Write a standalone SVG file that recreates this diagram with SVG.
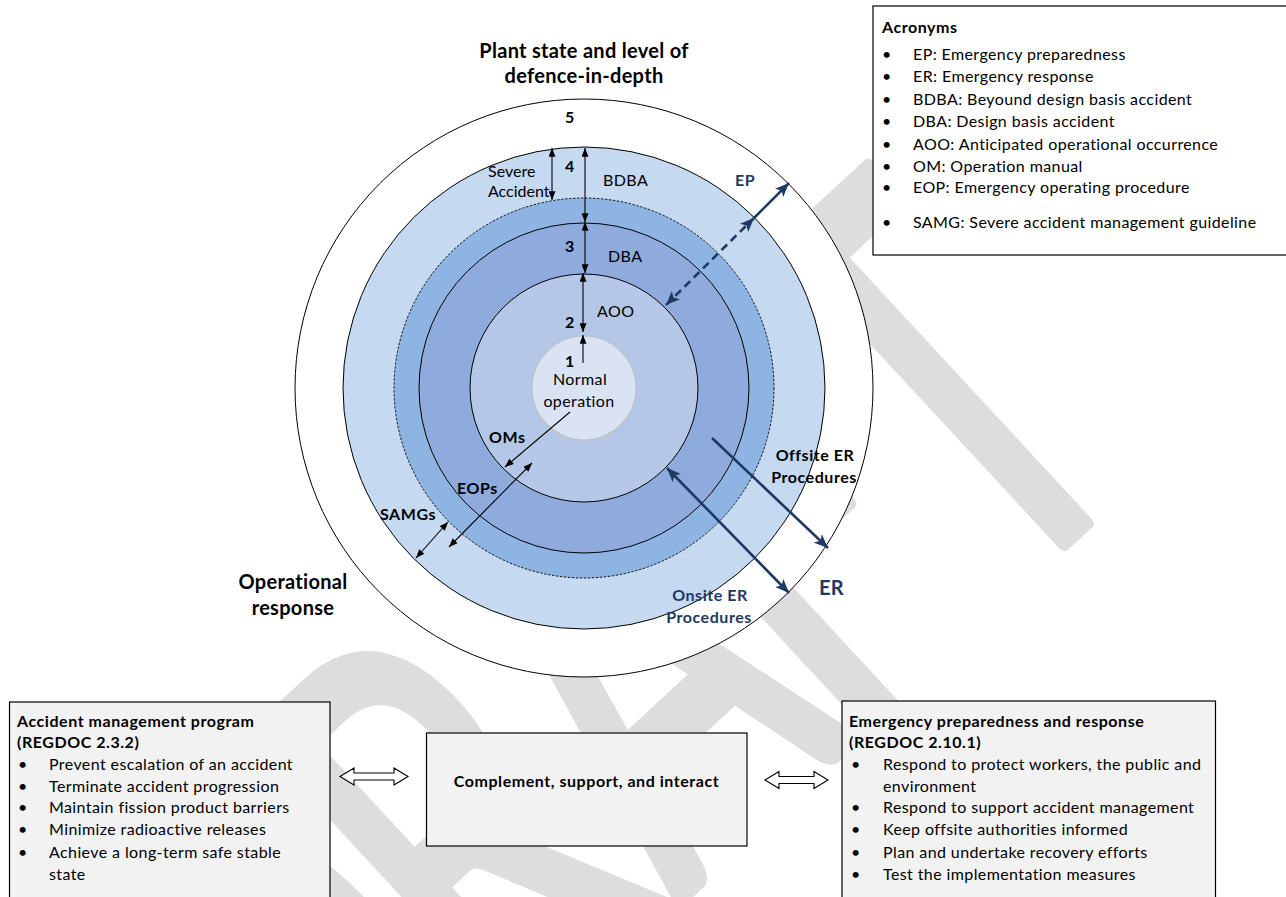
<svg xmlns="http://www.w3.org/2000/svg" width="1286" height="897" viewBox="0 0 1286 897">
<defs>
<style>
text{font-family:Lato,"Open Sans","Liberation Sans",sans-serif;fill:#000}
.t{font-size:16px;letter-spacing:0.4px}
.b{font-weight:bold;letter-spacing:0.55px}
.c{text-anchor:middle}
.big{font-size:20px;letter-spacing:0.3px}
.nv-t{fill:#1f3864}
.ring{stroke:#000;stroke-width:1}
.box{fill:#f2f2f2;stroke:#000;stroke-width:1.2}
.ln{stroke:#000;stroke-width:1.1;fill:none}
.nv{stroke:#1f3864;stroke-width:2.6;fill:none}
.wm{font-size:420px;fill:#dddddd;stroke:#dddddd;stroke-width:11;stroke-linejoin:round}
.harrow{fill:#fff;stroke:#000;stroke-width:1.1}
</style>
<marker id="ah" viewBox="0 0 10 8" refX="10" refY="4" markerWidth="9" markerHeight="7" markerUnits="userSpaceOnUse" orient="auto-start-reverse"><path d="M0,0 L10,4 L0,8 z" fill="#000"/></marker>
<marker id="an" viewBox="0 0 12 10" refX="12" refY="5" markerWidth="14" markerHeight="12" markerUnits="userSpaceOnUse" orient="auto-start-reverse"><path d="M0,0 L12,5 L0,10 L3,5 z" fill="#1f3864"/></marker>
</defs>
<rect width="1286" height="897" fill="#fff"/>

<g id="watermark" transform="translate(1073,535) rotate(-42.8) scale(0.85,1.36)">
<text class="wm" x="-1206 -902 -634 -368 -121" y="0">DRAFT</text>
</g>

<g id="title">
<text class="b c big" x="584" y="58">Plant state and level of</text>
<text class="b c big" x="584" y="83">defence-in-depth</text>
</g>

<g id="rings">
<circle id="level5" class="ring" cx="584" cy="388" r="289" fill="#fff"/>
<circle id="level4" class="ring" cx="584" cy="388" r="241" fill="#c5d9f1"/>
<circle id="severe" cx="584" cy="388" r="190" fill="#8db4e2" stroke="#000" stroke-width="0.9" stroke-dasharray="2.5 1.5"/>
<circle id="level3" class="ring" cx="584" cy="388" r="165" fill="#8faadc"/>
<circle id="level2" class="ring" cx="584" cy="388" r="114" fill="#b4c7e7"/>
<circle id="level1" cx="584" cy="388" r="52" fill="#dae3f3" stroke="#bfbfbf" stroke-width="1.2"/>
</g>

<g id="ring-labels" class="t">
<text class="b c" x="570" y="123">5</text>
<text x="488" y="177" style="letter-spacing:0">Severe</text>
<text x="488" y="197" style="letter-spacing:0">Accident</text>
<text class="b c" x="570" y="172">4</text>
<text x="603" y="186">BDBA</text>
<text class="b nv-t" x="735" y="186">EP</text>
<text class="b c" x="570" y="252">3</text>
<text x="608" y="262">DBA</text>
<text x="597" y="317">AOO</text>
<text class="b c" x="570" y="328">2</text>
<text class="b c" x="570" y="367">1</text>
<text class="c" x="580" y="385">Normal</text>
<text class="c" x="579" y="407">operation</text>
<text class="b" x="489" y="443">OMs</text>
<text class="b" x="457" y="494">EOPs</text>
<text class="b" x="380" y="520">SAMGs</text>
<text class="b c" x="815" y="461">Offsite ER</text>
<text class="b c" x="814" y="483">Procedures</text>
<text class="b c nv-t" x="710" y="601">Onsite ER</text>
<text class="b c nv-t" x="709" y="623">Procedures</text>
<text class="b nv-t big" x="819" y="595">ER</text>
<text class="b c big" x="293" y="589">Operational</text>
<text class="b c big" x="293" y="615">response</text>
</g>

<g id="connectors">
<line class="ln" x1="585" y1="148" x2="585" y2="222" marker-start="url(#ah)" marker-end="url(#ah)"/>
<line class="ln" x1="585" y1="222" x2="585" y2="273" marker-start="url(#ah)" marker-end="url(#ah)"/>
<line class="ln" x1="583" y1="273" x2="583" y2="332" marker-start="url(#ah)" marker-end="url(#ah)"/>
<line class="ln" x1="583" y1="363" x2="583" y2="335" marker-end="url(#ah)"/>
<line class="ln" x1="552" y1="148" x2="552" y2="200" marker-start="url(#ah)" marker-end="url(#ah)"/>
<line class="ln" x1="570" y1="412" x2="505" y2="467" marker-end="url(#ah)"/>
<line class="ln" x1="532" y1="463" x2="449" y2="547" marker-start="url(#ah)" marker-end="url(#ah)"/>
<line class="ln" x1="448" y1="522" x2="416" y2="558" marker-start="url(#ah)" marker-end="url(#ah)"/>
<line class="nv" x1="666" y1="305" x2="754" y2="218" stroke-dasharray="8 5" marker-start="url(#an)" marker-end="url(#an)"/>
<line class="nv" x1="754" y1="218" x2="789" y2="183" marker-end="url(#an)"/>
<line class="nv" x1="712" y1="438" x2="828" y2="548" marker-end="url(#an)"/>
<line class="nv" x1="667" y1="468" x2="789" y2="593" marker-start="url(#an)" marker-end="url(#an)"/>
<polygon class="harrow" points="340,776.5 354,768 354,773 394,773 394,768 408,776.5 394,785 394,780 354,780 354,785"/>
<polygon class="harrow" points="765,780 779,771.5 779,776.5 814,776.5 814,771.5 828,780 814,788.5 814,783.5 779,783.5 779,788.5"/>
</g>

<g id="acronyms" class="t">
<rect x="873" y="6" width="420" height="249" fill="#fff" stroke="#000" stroke-width="1.2"/>
<text class="b" x="882" y="33">Acronyms</text>
<text x="882" y="60">•</text><text x="913" y="60">EP: Emergency preparedness</text>
<text x="882" y="82">•</text><text x="913" y="82">ER: Emergency response</text>
<text x="882" y="105">•</text><text x="913" y="105">BDBA: Beyound design basis accident</text>
<text x="882" y="127">•</text><text x="913" y="127">DBA: Design basis accident</text>
<text x="882" y="150">•</text><text x="913" y="150">AOO: Anticipated operational occurrence</text>
<text x="882" y="172">•</text><text x="913" y="172">OM: Operation manual</text>
<text x="882" y="193">•</text><text x="913" y="193">EOP: Emergency operating procedure</text>
<text x="882" y="228">•</text><text x="913" y="228">SAMG: Severe accident management guideline</text>
</g>

<g id="amp-box" class="t">
<rect class="box" x="9.5" y="702" width="320.5" height="210"/>
<text class="b" x="17" y="727">Accident management program</text>
<text class="b" x="17" y="748">(REGDOC 2.3.2)</text>
<text x="18" y="770">•</text><text x="49" y="770">Prevent escalation of an accident</text>
<text x="18" y="792">•</text><text x="49" y="792">Terminate accident progression</text>
<text x="18" y="813">•</text><text x="49" y="813">Maintain fission product barriers</text>
<text x="18" y="835">•</text><text x="49" y="835">Minimize radioactive releases</text>
<text x="18" y="858">•</text><text x="49" y="858">Achieve a long-term safe stable</text>
<text x="49" y="880">state</text>
</g>

<g id="center-box" class="t">
<rect class="box" x="426.5" y="733" width="320.5" height="113"/>
<text class="b c" x="586.5" y="787">Complement, support, and interact</text>
</g>

<g id="epr-box" class="t">
<rect class="box" x="842" y="701" width="373.5" height="210"/>
<text class="b" x="849" y="727">Emergency preparedness and response</text>
<text class="b" x="849" y="748">(REGDOC 2.10.1)</text>
<text x="851" y="770">•</text><text x="883" y="770">Respond to protect workers, the public and</text>
<text x="883" y="792">environment</text>
<text x="851" y="813">•</text><text x="883" y="813">Respond to support accident management</text>
<text x="851" y="835">•</text><text x="883" y="835">Keep offsite authorities informed</text>
<text x="851" y="858">•</text><text x="883" y="858">Plan and undertake recovery efforts</text>
<text x="851" y="880">•</text><text x="883" y="880">Test the implementation measures</text>
</g>
</svg>
